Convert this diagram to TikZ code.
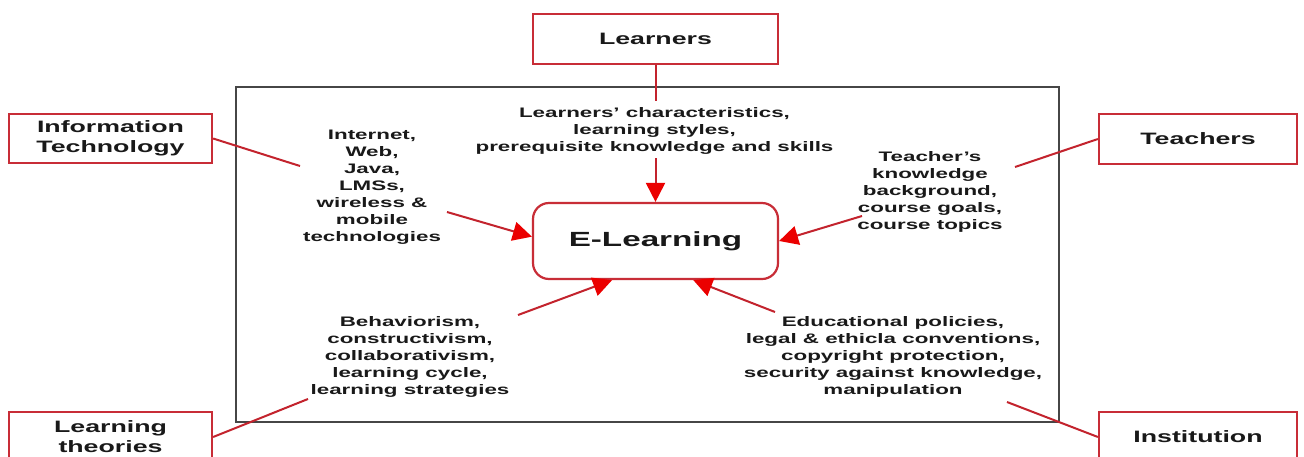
\documentclass[tikz,border=0pt]{standalone}
\usepackage{fontspec}
\setmainfont{Liberation Sans}[FakeStretch=1.62]
\usetikzlibrary{arrows.meta}
\definecolor{boxred}{RGB}{200,45,55}
\definecolor{linered}{RGB}{195,35,45}
\definecolor{headred}{RGB}{235,0,0}
\definecolor{framegray}{RGB}{70,70,70}
\definecolor{txt}{RGB}{25,25,25}
\tikzset{
  labelbox/.style={draw=boxred, line width=2.2pt, fill=white, minimum width=203pt,
    minimum height=49pt, inner sep=0pt, align=center,
    font=\fontsize{16.5}{20}\selectfont\bfseries, text=txt},
  frame/.style={draw=framegray, line width=2pt, minimum width=823pt,
    minimum height=335pt, inner sep=0pt},
  core/.style={draw=boxred, line width=2.2pt, rounded corners=16pt, fill=white,
    minimum width=245pt, minimum height=76pt, inner sep=0pt,
    font=\fontsize{20.5}{24}\selectfont\bfseries, text=txt},
  info/.style={align=center, inner sep=0pt,
    font=\fontsize{13.8}{17}\selectfont\bfseries, text=txt},
  conn/.style={draw=linered, line width=2pt},
  arr/.style={conn, -{Triangle[length=19pt, width=19pt, color=headred]}}
}
\begin{document}
\begin{tikzpicture}[x=1pt, y=-1pt]
\clip (0,0) rectangle (1304,456);
\fill[white] (0,0) rectangle (1304,456);

\node[frame] (frame) at (647.5,254.5) {};

% outer boxes
\node[labelbox, minimum width=245pt, minimum height=50pt] (learners) at (655.5,39) {Learners};
\node[labelbox] (it) at (110.5,138.5) {Information\\Technology};
\node[labelbox, minimum width=198pt, minimum height=50pt] (teachers) at (1198,139) {Teachers};
\node[labelbox, minimum height=50pt] (lt) at (110.5,437) {Learning\\theories};
\node[labelbox, minimum width=198pt, minimum height=50pt] (inst) at (1198,437) {Institution};

% centre
\node[core] (el) at (655.5,241) {E-Learning};

% inner texts
\node[info] (tlearn) at (654.5,130.5) {Learners' characteristics,\\learning styles,\\prerequisite knowledge and skills};
\node[info] (tit) at (372,187.5) {Internet,\\Web,\\Java,\\LMSs,\\wireless \&\\mobile\\technologies};
\node[info] (tteach) at (930,192) {Teacher's\\knowledge\\background,\\course goals,\\course topics};
\node[info] (tlt) at (410,357) {Behaviorism,\\constructivism,\\collaborativism,\\learning cycle,\\learning strategies};
\node[info] (tinst) at (893,357) {Educational policies,\\legal \& ethicla conventions,\\copyright protection,\\security against knowledge,\\manipulation};

% free ends of the connectors
\coordinate (learnEnd) at (655.5,101);
\coordinate (itEnd) at (300,166);
\coordinate (teachEnd) at (1015,167);
\coordinate (ltEnd) at (308,399);
\coordinate (instEnd) at (1007,402);
\coordinate (learnStart) at (655.5,158);
\coordinate (itStart) at (447,212);
\coordinate (teachStart) at (862,216);
\coordinate (ltStart) at (518,315);
\coordinate (instStart) at (775,312);

% lines from outer boxes
\draw[conn] (learners.south) -- (learnEnd);
\draw[conn] (it.east) -- (itEnd);
\draw[conn] (teachers.west) -- (teachEnd);
\draw[conn] (lt.east) -- (ltEnd);
\draw[conn] (inst.west) -- (instEnd);

% arrows into E-Learning
\draw[arr] (learnStart) -- (el.north);
\draw[arr] (itStart) -- (el.178);
\draw[arr] (teachStart) -- (el.east);
\draw[arr] (ltStart) -- (el.222.5);
\draw[arr] (instStart) -- (el.314.6);
\end{tikzpicture}
\end{document}
